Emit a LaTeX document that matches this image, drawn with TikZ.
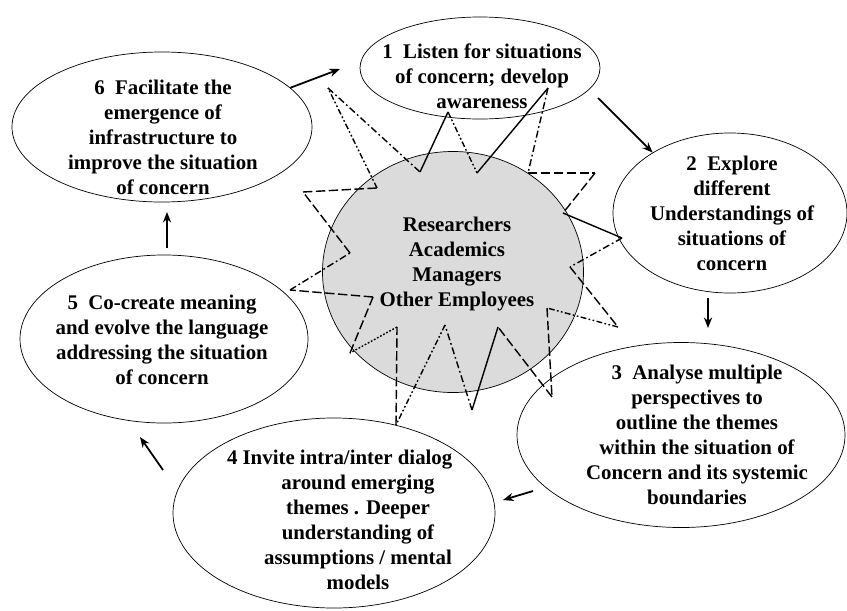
\documentclass[tikz,border=0pt]{standalone}
\usepackage{fontspec}
\setmainfont{Liberation Serif}
\usetikzlibrary{shapes,arrows,arrows.meta,positioning}

\begin{document}
\begin{tikzpicture}[
        x=0.03cm, y=-0.03cm,
        stage/.style={draw, ellipse, inner sep=0pt, line width=0.6pt},
        core/.style={stage, fill=black!14},
        txt/.style={align=center, inner sep=0pt, font=\fontsize{17.8}{21.3}\selectfont\bfseries},
        arrow/.style={->, >={Stealth[length=9pt, width=7pt]}, line width=1.5pt},
        sline/.style={line width=1.2pt},
        ldash/.style={sline, dash pattern=on 8pt off 3pt},
        ddot/.style={sline, dash pattern=on 6pt off 2.5pt on 1.5pt off 2.5pt},
        dddot/.style={sline, dash pattern=on 5pt off 2pt on 1.5pt off 2pt on 1.5pt off 2pt},
        dotline/.style={sline, dash pattern=on 1.5pt off 1.5pt}
    ]
        \useasboundingbox (0,0) rectangle (847,610);

        % Centre
        \node[core, minimum width=7.83cm, minimum height=7.23cm] (hub) at (453,272) {};

        % Star round the centre
        \foreach \x/\y [count=\i] in {328/88, 420/172, 448/112, 477/173, 548/88, 528/173,
                595/173, 563/213, 622/238, 570/267, 618/327, 547/308, 552/397, 498/327,
                472/410, 445/325, 396/425, 397/327, 350/353, 373/297, 290/290, 350/253,
                303/192, 377/188}
            \coordinate (s\i) at (\x,\y);
        \foreach \a/\b/\s in {1/2/ddot, 2/3/sline, 3/4/dddot, 4/5/sline, 5/6/ddot,
                6/7/ldash, 7/8/ldash, 8/9/sline, 9/10/ddot, 10/11/ldash, 11/12/dddot,
                12/13/ldash, 13/14/ldash, 14/15/sline, 15/16/ddot, 16/17/dddot,
                17/18/ldash, 18/19/dotline, 19/20/ldash, 20/21/ldash, 21/22/ddot,
                22/23/ldash, 23/24/ldash, 24/1/dddot}
            \draw[\s] (s\a) -- (s\b);

        \node[txt] (hubtext) at (457,264) {Researchers\\Academics\\Managers\\Other Employees};

        % Stages
        \node[stage, minimum width=7.2cm, minimum height=3.06cm] (e1) at (480,68) {};
        \node[stage, minimum width=7.02cm, minimum height=4.8cm] (e2) at (730,213) {};
        \node[stage, minimum width=9.84cm, minimum height=5.55cm] (e3) at (681,435) {};
        \node[stage, minimum width=9.66cm, minimum height=5.7cm] (e4) at (334,513) {};
        \node[stage, minimum width=8.64cm, minimum height=5.04cm] (e5) at (164,339) {};
        \node[stage, minimum width=9cm, minimum height=4.5cm] (e6) at (162,127) {};

        \node[txt] (t1) at (482,76) {1 \ Listen for situations\\of concern; develop\\awareness};
        \node[txt] (t2) at (732,213) {2 \ Explore\\different\\Understandings of\\situations of\\concern};
        \node[txt] (t3) at (697,435) {3 \ Analyse multiple\\perspectives to\\outline the themes\\within the situation of\\Concern and its systemic\\boundaries};
        \node[txt] (t4) at (358,520) {\hspace*{-1.1cm}4 Invite intra/inter dialog\\around emerging\\themes . Deeper\\understanding of\\assumptions / mental\\models};
        \node[txt] (t5) at (162,340) {5 \ Co-create meaning\\and evolve the language\\addressing the situation\\of concern};
        \node[txt] (t6) at (163,137) {6 \ Facilitate the\\emergence of\\infrastructure to\\improve the situation\\of concern};

        % Arrows
        \coordinate (p61) at (340,69);
        \coordinate (p12) at (598,98);
        \coordinate (p23) at (708,298);
        \coordinate (p32) at (708,328);
        \coordinate (p34) at (533,491);
        \coordinate (p43) at (503,500);
        \coordinate (p45) at (163,470);
        \coordinate (p54) at (140,437);
        \coordinate (p56) at (167,248);
        \coordinate (p65) at (167,212);
        \draw[arrow] (e6.17) -- (p61);
        \draw[arrow] (p12) -- (e2.142);
        \draw[arrow] (p23) -- (p32);
        \draw[arrow] (p34) -- (p43);
        \draw[arrow] (p45) -- (p54);
        \draw[arrow] (p56) -- (p65);
    \end{tikzpicture}
\end{document}
